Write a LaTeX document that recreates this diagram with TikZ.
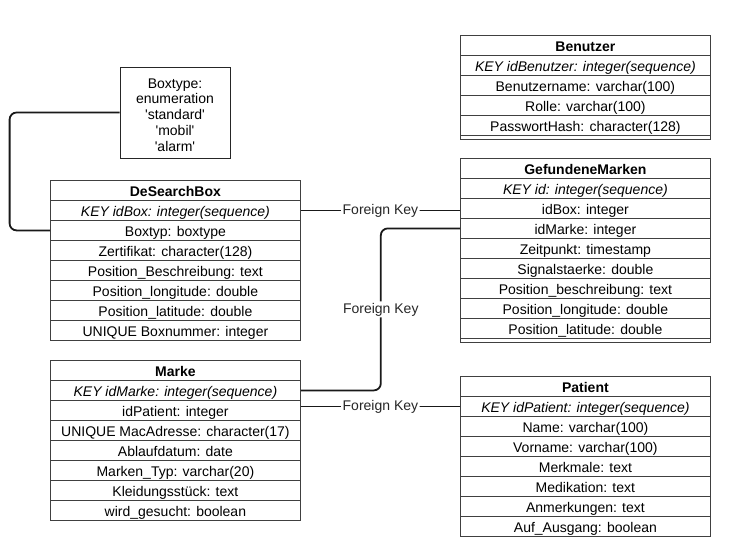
\documentclass[tikz,border=0pt]{standalone}
\usepackage{fontspec}
\setmainfont{Liberation Sans}
\newcommand\tblfont{\fontsize{14}{15.8}\selectfont}
\begin{document}
\begin{tikzpicture}[x=1pt,y=-1pt,
  tbl/.style={draw=black!75, line width=0.8pt, minimum width=250pt, minimum height=20pt, inner sep=0pt, text height=13pt, text depth=0pt, anchor=north west, font=\tblfont},
  hdr/.style={tbl, font=\tblfont\bfseries},
  keyrow/.style={tbl, font=\tblfont\itshape},
  thin/.style={tbl, minimum height=4pt, text height=0pt},
  fk/.style={line width=1.8pt, draw=black!90, rounded corners=7pt},
  fklabel/.style={fill=white, font=\tblfont, inner sep=1.5pt, text=black!85}]
\useasboundingbox (0,0) rectangle (733,558);
\fill[white] (0,0) rectangle (733,558);

% Boxtype enumeration
\node[draw=black!85, line width=0.8pt, minimum width=110pt, minimum height=91pt, inner sep=0pt] (bt) at (175,112.5) {};
\node[align=center, font=\tblfont, inner sep=0pt] (btt) at ([yshift=-2.5pt]bt.center)
  {Boxtype:\\enumeration\\\textquotesingle standard\textquotesingle\\\textquotesingle mobil\textquotesingle\\\textquotesingle alarm\textquotesingle};

% DeSearchBox
\node[hdr] (ds0) at (50,180) {DeSearchBox};
\node[keyrow] (ds1) at (50,200) {KEY idBox: integer(sequence)};
\node[tbl] (ds2) at (50,220) {Boxtyp: boxtype};
\node[tbl] (ds3) at (50,240) {Zertifikat: character(128)};
\node[tbl] (ds4) at (50,260) {Position\_Beschreibung: text};
\node[tbl] (ds5) at (50,280) {Position\_longitude: double};
\node[tbl] (ds6) at (50,300) {Position\_latitude: double};
\node[tbl] (ds7) at (50,320) {UNIQUE Boxnummer: integer};

% Benutzer
\node[hdr] (bn0) at (460,35) {Benutzer};
\node[keyrow] (bn1) at (460,55) {KEY idBenutzer: integer(sequence)};
\node[tbl] (bn2) at (460,75) {Benutzername: varchar(100)};
\node[tbl] (bn3) at (460,95) {Rolle: varchar(100)};
\node[tbl] (bn4) at (460,115) {PasswortHash: character(128)};
\node[thin] (bn5) at (460,135) {};

% GefundeneMarken
\node[hdr] (gm0) at (460,158) {GefundeneMarken};
\node[keyrow] (gm1) at (460,178) {KEY id: integer(sequence)};
\node[tbl] (gm2) at (460,198) {idBox: integer};
\node[tbl] (gm3) at (460,218) {idMarke: integer};
\node[tbl] (gm4) at (460,238) {Zeitpunkt: timestamp};
\node[tbl] (gm5) at (460,258) {Signalstaerke: double};
\node[tbl] (gm6) at (460,278) {Position\_beschreibung: text};
\node[tbl] (gm7) at (460,298) {Position\_longitude: double};
\node[tbl] (gm8) at (460,318) {Position\_latitude: double};
\node[thin] (gm9) at (460,338) {};

% Marke
\node[hdr] (mk0) at (50,360) {Marke};
\node[keyrow] (mk1) at (50,380) {KEY idMarke: integer(sequence)};
\node[tbl] (mk2) at (50,400) {idPatient: integer};
\node[tbl] (mk3) at (50,420) {UNIQUE MacAdresse: character(17)};
\node[tbl] (mk4) at (50,440) {Ablaufdatum: date};
\node[tbl] (mk5) at (50,460) {Marken\_Typ: varchar(20)};
\node[tbl] (mk6) at (50,480) {Kleidungsstück: text};
\node[tbl] (mk7) at (50,500) {wird\_gesucht: boolean};

% Patient
\node[hdr] (pt0) at (460,376) {Patient};
\node[keyrow] (pt1) at (460,396) {KEY idPatient: integer(sequence)};
\node[tbl] (pt2) at (460,416) {Name: varchar(100)};
\node[tbl] (pt3) at (460,436) {Vorname: varchar(100)};
\node[tbl] (pt4) at (460,456) {Merkmale: text};
\node[tbl] (pt5) at (460,476) {Medikation: text};
\node[tbl] (pt6) at (460,496) {Anmerkungen: text};
\node[tbl] (pt7) at (460,516) {Auf\_Ausgang: boolean};

% connectors
\draw[fk] (bt.west) -- ++(-110,0) |- (ds2.west);
\draw[fk] (ds1.east) -- (ds1.east -| gm2.west) node[midway, fklabel] (l1) {Foreign Key};
\draw[fk] (mk1.east) -- ++(80,0) |- (gm3.west) node[pos=0.25, fklabel] (l2) {Foreign Key};
\draw[fk] (pt1.west) -- (pt1.west -| mk2.east) node[midway, fklabel] (l3) {Foreign Key};
\end{tikzpicture}
\end{document}
